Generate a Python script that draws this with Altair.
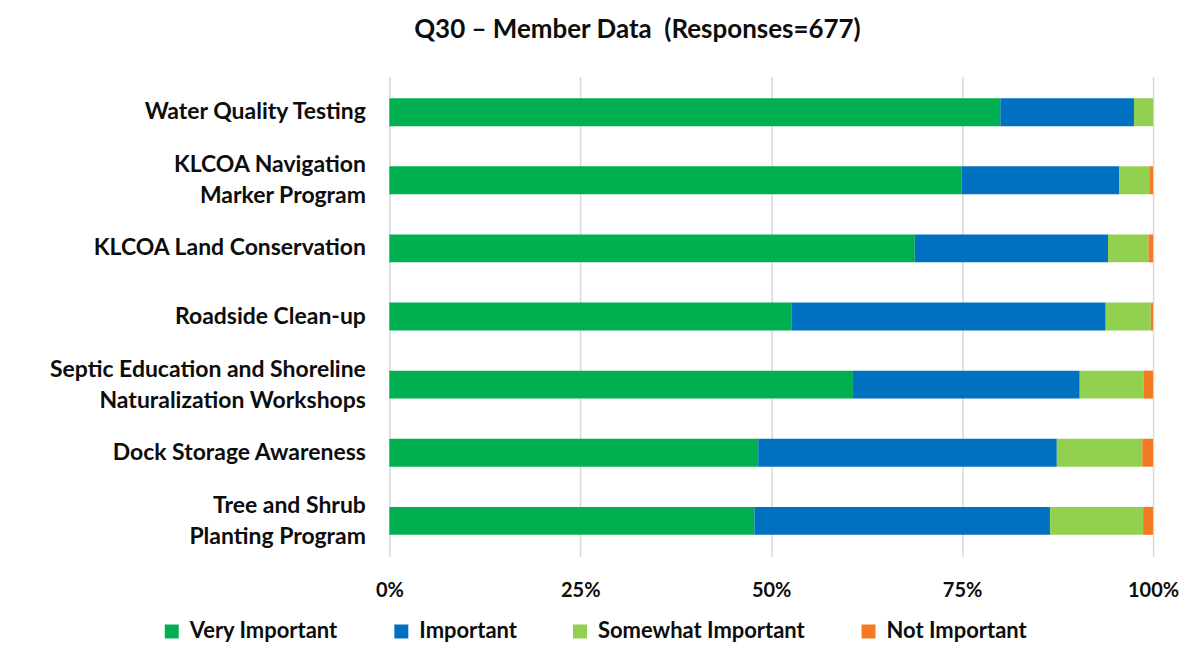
import altair as alt
import pandas as pd

categories = [
    "Water Quality Testing",
    "KLCOA Navigation\nMarker Program",
    "KLCOA Land Conservation",
    "Roadside Clean-up",
    "Septic Education and Shoreline\nNaturalization Workshops",
    "Dock Storage Awareness",
    "Tree and Shrub\nPlanting Program",
]
series = ["Very Important", "Important", "Somewhat Important", "Not Important"]
very_important = [80.0, 74.9, 68.8, 52.7, 60.7, 48.3, 47.8]
important = [17.5, 20.7, 25.3, 41.1, 29.7, 39.1, 38.7]
somewhat_important = [2.5, 3.9, 5.3, 5.9, 8.4, 11.2, 12.2]
not_important = [0.0, 0.5, 0.6, 0.3, 1.2, 1.4, 1.3]
colors = ["#00B050", "#0070C0", "#92D050", "#F37A21"]

values = [very_important, important, somewhat_important, not_important]
rows = []
for si, s in enumerate(series):
    for ci, c in enumerate(categories):
        rows.append({"category": c, "series": s, "order": si, "value": values[si][ci]})
df = pd.DataFrame(rows)

FONT = "Lato"
TXT = "#0d0d0d"

chart = (
    alt.Chart(df)
    .mark_bar()
    .encode(
        y=alt.Y(
            "category:N",
            sort=categories,
            scale=alt.Scale(paddingInner=0.59, paddingOuter=0.32),
            axis=alt.Axis(
                title=None,
                ticks=False,
                domain=False,
                labelExpr="split(datum.label, '\\n')",
                labelFontSize=23,
                labelFontWeight="bold",
                labelColor=TXT,
                labelFont=FONT,
                labelPadding=24,
                labelLimit=400,
                labelLineHeight=31,
                labelBaseline="middle",
                labelOffset={
                    "condition": {"test": "indexof(datum.value, '\\n') >= 0", "value": -15},
                    "value": 0,
                },
            ),
        ),
        x=alt.X(
            "value:Q",
            stack="normalize",
            scale=alt.Scale(domain=[0, 1]),
            axis=alt.Axis(
                title=None,
                format="%",
                values=[0, 0.25, 0.5, 0.75, 1],
                ticks=False,
                domain=False,
                grid=True,
                gridColor="#D9D9D9",
                gridWidth=1.5,
                labelFontSize=20,
                labelFontWeight="bold",
                labelColor=TXT,
                labelFont=FONT,
                labelPadding=24,
                labelFlush=False,
            ),
        ),
        color=alt.Color(
            "series:N",
            sort=series,
            scale=alt.Scale(domain=series, range=colors),
            legend=alt.Legend(
                title=None,
                orient="none",
                direction="horizontal",
                legendX=-229,
                legendY=545,
                symbolType="square",
                symbolSize=196,
                symbolStrokeWidth=0,
                labelFontSize=22,
                labelFontWeight="bold",
                labelColor=TXT,
                labelFont=FONT,
                labelLimit=400,
                columnPadding=52,
                labelOffset=7,
                padding=0,
            ),
        ),
        order=alt.Order("order:Q", sort="ascending"),
    )
    .properties(
        width=765,
        height=481,
        title=alt.TitleParams(
            "Q30 \u2013 Member Data \u00a0(Responses=677)",
            fontSize=26,
            fontWeight="bold",
            font=FONT,
            color=TXT,
            anchor="middle",
            dx=-134,
            offset=33,
        ),
        autosize=alt.AutoSizeParams(type="none"),
        padding={"left": 382, "top": 68, "right": 26, "bottom": 88},
    )
    .configure_view(stroke=None)
)

chart.save("out.html", embed_options={"renderer": "svg", "actions": False})
